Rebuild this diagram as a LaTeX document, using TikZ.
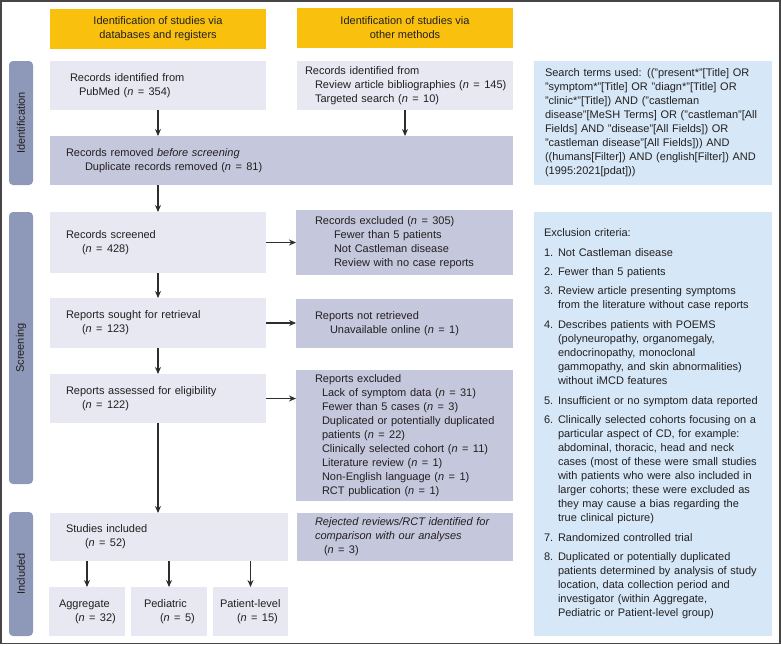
\documentclass[tikz,border=0pt]{standalone}
\usepackage{fontspec}
\usepackage{graphicx}
\setmainfont{Liberation Sans}
\usetikzlibrary{arrows.meta}
\definecolor{hdr}{RGB}{249,192,13}
\definecolor{lightbox}{RGB}{231,232,242}
\definecolor{darkbox}{RGB}{197,199,220}
\definecolor{sidebar}{RGB}{142,152,184}
\definecolor{bluebox}{RGB}{214,232,247}
\definecolor{arrowc}{RGB}{45,45,45}
\definecolor{txt}{RGB}{35,31,32}
\definecolor{frame}{RGB}{70,70,70}
\newcommand{\nn}[1]{(\textit{n}\hspace{0.4em}=\hspace{0.4em}#1)}
\newcommand{\itm}[1]{\makebox[14pt][l]{#1}}
\newcommand{\ind}{\hspace*{14pt}}
\begin{document}
\begin{tikzpicture}[x=1pt,y=-1pt,
  font=\fontsize{11}{14}\selectfont, text=txt,
  base/.style={anchor=north west, inner ysep=0pt, inner xsep=0pt, outer sep=0pt, align=left},
  dim/.style args={#1/#2/#3}{minimum width=#1pt, minimum height=#2pt, text width=#1pt,
     execute at begin node={\leftskip=#3pt\relax\hyphenpenalty=10000\relax}},
  lb/.style={base, fill=lightbox},
  db/.style={base, fill=darkbox},
  bb/.style={base, fill=bluebox},
  hb/.style={anchor=north west, inner sep=0pt, outer sep=0pt, align=center, fill=hdr, minimum width=216, minimum height=40},
  sb/.style={anchor=north west, inner sep=0pt, outer sep=0pt, fill=sidebar, rounded corners=4pt, minimum width=24},
  arr/.style={draw=arrowc, line width=1.1pt, -{Stealth[length=7pt,width=6pt]}}]
\useasboundingbox (0,0) rectangle (781,645);
\draw[frame, line width=1.5pt] (0.75,0.75) rectangle (780,643.5);

% headers
\node[hb] (h1) at (50,9) {Identification of studies via\\databases and registers};
\node[hb] (h2) at (297,8) {Identification of studies via\\other methods};

% side labels
\node[sb, minimum height=124] (s1) at (9,61) {\rotatebox{90}{Identification}};
\node[sb, minimum height=272] (s2) at (9,212) {\rotatebox{90}{Screening}};
\node[sb, minimum height=124] (s3) at (9,512) {\rotatebox{90}{Included}};

% identification
\node[lb, dim=216/49/20] (pub) at (50,61)
  {Records identified from\\\hspace*{9pt}PubMed \nn{354}};
\node[lb, dim=216/49/8] (oth) at (297,61)
  {Records identified from\\\hspace*{10pt}Review article bibliographies \nn{145}\\\hspace*{10pt}Targeted search \nn{10}};
\node[bb, dim=238/124/11] (srch) at (534,61)
  {Search terms used: (("present*"[Title] OR\\
   "symptom*"[Title] OR "diagn*"[Title] OR\\
   "clinic*"[Title]) AND ("castleman\\
   disease"[MeSH Terms] OR ("castleman"[All\\
   Fields] AND "disease"[All Fields]) OR\\
   "castleman disease"[All Fields])) AND\\
   ((humans[Filter]) AND (english[Filter]) AND\\
   (1995:2021[pdat]))};
\node[db, dim=463/49/16] (rem) at (50,136)
  {Records removed \textit{before screening}\\\hspace*{19pt}Duplicate records removed \nn{81}};

% screening
\node[lb, dim=216/61/16] (scr) at (50,212)
  {Records screened\\\hspace*{16pt}\nn{428}};
\node[db, dim=217/65/19] (ex1) at (296,210)
  {Records excluded \nn{305}\\\hspace*{19pt}Fewer than 5 patients\\\hspace*{19pt}Not Castleman disease\\\hspace*{19pt}Review with no case reports};
\node[lb, dim=216/50/16] (sou) at (50,298)
  {Reports sought for retrieval\\\hspace*{16pt}\nn{123}};
\node[db, dim=217/49/19] (nret) at (296,299)
  {Reports not retrieved\\\hspace*{15pt}Unavailable online \nn{1}};
\node[lb, dim=216/49/16] (ass) at (50,374)
  {Reports assessed for eligibility\\\hspace*{16pt}\nn{122}};
\node[db, dim=217/131/19] (ex2) at (296,370)
  {Reports excluded\\
   \hspace*{7pt}Lack of symptom data \nn{31}\\
   \hspace*{7pt}Fewer than 5 cases \nn{3}\\
   \hspace*{7pt}Duplicated or potentially duplicated\\
   \hspace*{7pt}patients \nn{22}\\
   \hspace*{7pt}Clinically selected cohort \nn{11}\\
   \hspace*{7pt}Literature review \nn{1}\\
   \hspace*{7pt}Non-English language \nn{1}\\
   \hspace*{7pt}RCT publication \nn{1}};

% criteria
\node[bb, dim=238/424/10] (crit) at (534,212)
  {Exclusion criteria:\\[6pt]
   \itm{1.}Not Castleman disease\\[5pt]
   \itm{2.}Fewer than 5 patients\\[5pt]
   \itm{3.}Review article presenting symptoms\\
   \ind from the literature without case reports\\[6pt]
   \itm{4.}Describes patients with POEMS\\
   \ind (polyneuropathy, organomegaly,\\
   \ind endocrinopathy, monoclonal\\
   \ind gammopathy, and skin abnormalities)\\
   \ind without iMCD features\\[6pt]
   \itm{5.}Insufficient or no symptom data reported\\[5pt]
   \itm{6.}Clinically selected cohorts focusing on a\\
   \ind particular aspect of CD, for example:\\
   \ind abdominal, thoracic, head and neck\\
   \ind cases (most of these were small studies\\
   \ind with patients who were also included in\\
   \ind larger cohorts; these were excluded as\\
   \ind they may cause a bias regarding the\\
   \ind true clinical picture)\\[6pt]
   \itm{7.}Randomized controlled trial\\[5pt]
   \itm{8.}Duplicated or potentially duplicated\\
   \ind patients determined by analysis of study\\
   \ind location, data collection period and\\
   \ind investigator (within Aggregate,\\
   \ind Pediatric or Patient-level group)\\[8pt]};

% included
\node[lb, dim=238/48/16] (inc) at (50,513)
  {Studies included\\\hspace*{19pt}\nn{52}};
\node[db, dim=216/48/18] (rej) at (297,513)
  {\textit{Rejected reviews/RCT identified for}\\\textit{comparison with our analyses}\\\hspace*{9pt}\nn{3}};
\node[lb, dim=76/49/10] (agg) at (49,587)
  {Aggregate\\\hspace*{16pt}\nn{32}};
\node[lb, dim=76/49/13] (ped) at (131,587)
  {Pediatric\\\hspace*{16pt}\nn{5}};
\node[lb, dim=75/49/7] (pat) at (213,587)
  {Patient-level\\\hspace*{17pt}\nn{15}};

% arrows
\draw[arr] (pub.south) -- (pub.south |- rem.north);
\draw[arr] (oth.south) -- (oth.south |- rem.north);
\draw[arr] (scr.north |- rem.south) -- (scr.north);
\draw[arr] (scr.south) -- (sou.north);
\draw[arr] (sou.south) -- (ass.north);
\draw[arr] (ass.south) -- (ass.south |- inc.north);
\draw[arr] (scr.east) -- (scr.east -| ex1.west);
\draw[arr] (sou.east) -- (sou.east -| nret.west);
\draw[arr] (ass.east) -- (ass.east -| ex2.west);
\draw[arr] (agg.north |- inc.south) -- (agg.north);
\draw[arr] (ped.north |- inc.south) -- (ped.north);
\draw[arr] (pat.north |- inc.south) -- (pat.north);
\end{tikzpicture}
\end{document}
